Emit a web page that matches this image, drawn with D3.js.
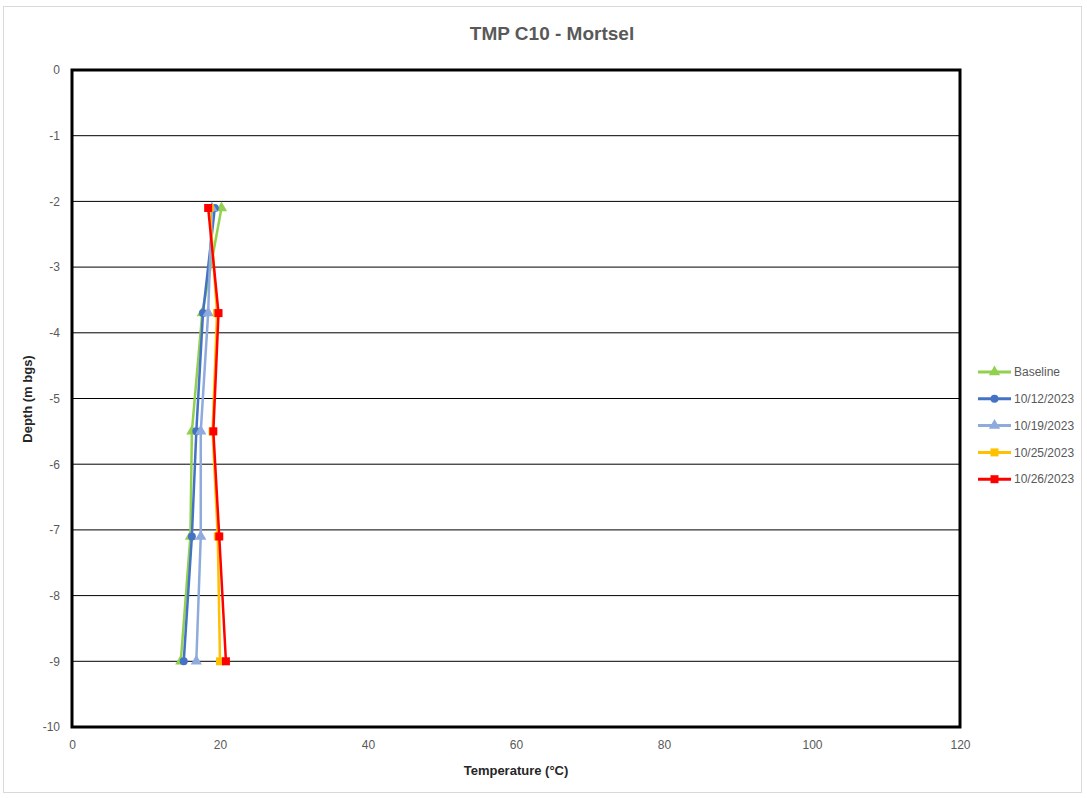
<!DOCTYPE html>
<html>
  <head>
    <title>TMP C10 - Mortsel</title>
    <script src="https://d3js.org/d3.v7.min.js"></script>
    <style>
      body { margin: 0; background: #fff; }
      text { font-family: "Liberation Sans", Arial, sans-serif; }
    </style>
  </head>
  <body>
    <svg id="chart" width="1087" height="798"></svg>
  </body>
  <script type="text/javascript">
    // depth of each reading (m bgs)
    var depths = [-2.1, -3.7, -5.5, -7.1, -9.0];
    var seriesNames = ["Baseline", "10/12/2023", "10/19/2023", "10/25/2023", "10/26/2023"];
    var baseline = [20.2, 17.6, 16.2, 16.0, 14.7];
    var oct12 = [19.3, 17.7, 16.8, 16.2, 15.1];
    var oct19 = [18.9, 18.4, 17.4, 17.4, 16.8];
    var oct25 = [18.6, 19.6, 19.0, 19.7, 20.0];
    var oct26 = [18.4, 19.8, 19.1, 19.9, 20.8];
    var xTicks = [0, 20, 40, 60, 80, 100, 120];
    var yTicks = [0, -1, -2, -3, -4, -5, -6, -7, -8, -9, -10];

    var colors = ["#92d050", "#4472c4", "#8faadc", "#ffc000", "#ff0000"];
    var shapes = [d3.symbolTriangle, d3.symbolCircle, d3.symbolTriangle, d3.symbolSquare, d3.symbolSquare];
    var sizes = [55, 50, 55, 64, 64];
    var allValues = [baseline, oct12, oct19, oct25, oct26];

    var svg = d3.select("#chart");

    // outer chart border
    svg.append("rect")
      .attr("x", 3.5).attr("y", 6.5)
      .attr("width", 1078).attr("height", 786)
      .attr("fill", "#fff").attr("stroke", "#d9d9d9");

    var x = d3.scaleLinear().domain([0, 120]).range([72, 960]);
    var y = d3.scaleLinear().domain([0, -10]).range([70, 727]);

    // horizontal gridlines
    svg.append("g").selectAll("line")
      .data(yTicks.slice(1, -1))
      .enter().append("line")
        .attr("x1", x(0)).attr("x2", x(120))
        .attr("y1", function(d){ return y(d); })
        .attr("y2", function(d){ return y(d); })
        .attr("stroke", "#000").attr("stroke-width", 1);

    // axes (labels only), plain hyphen for negatives like the original
    var plain = function(d){ return String(d); };
    var yAxis = svg.append("g")
      .attr("transform", "translate(" + x(0) + ",0)")
      .call(d3.axisLeft(y).tickValues(yTicks).tickFormat(plain).tickSize(0).tickPadding(12));
    var xAxis = svg.append("g")
      .attr("transform", "translate(0," + y(-10) + ")")
      .call(d3.axisBottom(x).tickValues(xTicks).tickFormat(plain).tickSize(0).tickPadding(13));
    [xAxis, yAxis].forEach(function(a){
      a.select(".domain").remove();
      a.selectAll("text").attr("fill", "#595959").style("font-size", "12px");
    });

    // plot frame
    svg.append("rect")
      .attr("x", x(0)).attr("y", y(0))
      .attr("width", x(120) - x(0)).attr("height", y(-10) - y(0))
      .attr("fill", "none").attr("stroke", "#000").attr("stroke-width", 3);

    var line = d3.line()
      .x(function(d){ return x(d[0]); })
      .y(function(d){ return y(d[1]); });

    allValues.forEach(function(vals, i){
      var pts = vals.map(function(v, j){ return [v, depths[j]]; });
      var g = svg.append("g");
      g.append("path")
        .attr("d", line(pts))
        .attr("fill", "none")
        .attr("stroke", colors[i])
        .attr("stroke-width", 2.5);
      g.selectAll("path.m")
        .data(pts)
        .enter().append("path")
          .attr("class", "m")
          .attr("transform", function(d){ return "translate(" + x(d[0]) + "," + y(d[1]) + ")"; })
          .attr("d", d3.symbol().type(shapes[i]).size(sizes[i]))
          .attr("fill", colors[i]);
    });

    // title and axis titles
    svg.append("text")
      .attr("x", 552).attr("y", 40)
      .attr("text-anchor", "middle")
      .attr("fill", "#595959")
      .style("font-size", "19px").style("font-weight", "bold")
      .text("TMP C10 - Mortsel");
    svg.append("text")
      .attr("x", 516).attr("y", 775)
      .attr("text-anchor", "middle")
      .attr("fill", "#262626")
      .style("font-size", "13px").style("font-weight", "bold")
      .text("Temperature (°C)");
    svg.append("text")
      .attr("transform", "translate(32," + 399 + ") rotate(-90)")
      .attr("text-anchor", "middle")
      .attr("fill", "#262626")
      .style("font-size", "13px").style("font-weight", "bold")
      .text("Depth (m bgs)");

    // legend
    var legend = svg.append("g").selectAll("g")
      .data(seriesNames)
      .enter().append("g")
        .attr("transform", function(d, i){ return "translate(978," + (372 + i * 26.8) + ")"; });
    legend.append("line")
      .attr("x1", 0).attr("x2", 33)
      .attr("stroke", function(d, i){ return colors[i]; })
      .attr("stroke-width", 3);
    legend.append("path")
      .attr("transform", "translate(16.5,0)")
      .attr("d", function(d, i){ return d3.symbol().type(shapes[i]).size(sizes[i])(); })
      .attr("fill", function(d, i){ return colors[i]; });
    legend.append("text")
      .attr("x", 36).attr("dy", "0.35em")
      .attr("fill", "#595959")
      .style("font-size", "12px")
      .text(function(d){ return d; });
  </script>
</html>
